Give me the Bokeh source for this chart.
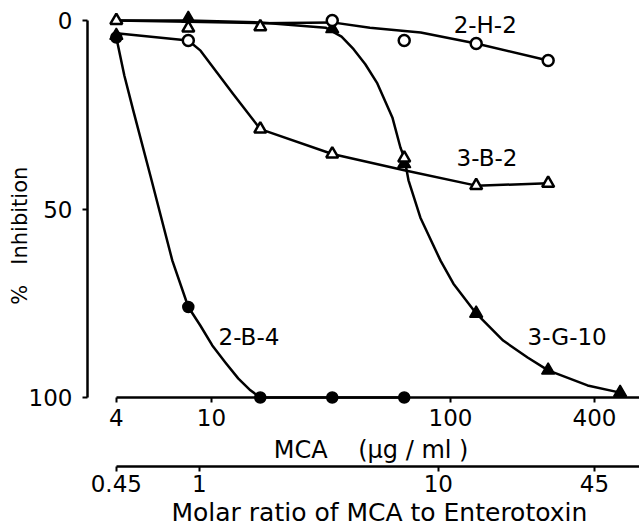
from bokeh.plotting import figure
from bokeh.models import (Range1d, LogAxis, LogScale, FixedTicker,
                          CustomJSTickFormatter)
from bokeh.core.properties import value
from bokeh.embed import file_html
from bokeh.resources import INLINE

# ---------------- data ----------------
# MCA concentration (ug/ml), log axis; % inhibition (0 at top)
mca_ticks = [4, 10, 100, 400]
ratio_ticks = [0.45, 1, 10, 45]
inhib_ticks = [0, 50, 100]
mca_per_ratio = 4 / 0.45          # 4 ug/ml  <->  molar ratio 0.45

# marker points, grouped by symbol as drawn
open_circle_x = [8, 32, 64, 128, 256]
open_circle_y = [5.3, 0.0, 5.3, 6.1, 10.6]

open_tri_x = [4, 8, 16, 16, 32, 64, 128, 256]
open_tri_y = [0.0, 2.0, 1.7, 28.8, 35.4, 36.5, 43.8, 43.2]

filled_tri_x = [4, 8, 32, 64, 128, 256, 512]
filled_tri_y = [4.0, -0.5, 2.2, 38.0, 77.7, 92.8, 98.7]

filled_circle_x = [4, 8, 16, 32, 64]
filled_circle_y = [4.5, 76.0, 100.0, 100.0, 100.0]

# curves as drawn in the figure
curve_2H2_x = [4, 8, 16, 32, 46, 75, 128, 256]
curve_2H2_y = [0.0, 0.3, 0.7, 0.5, 1.9, 3.2, 6.1, 10.6]

curve_3B2_x = [4, 8, 9, 12.3, 16, 32, 64, 128, 256]
curve_3B2_y = [3.4, 5.3, 8.0, 19.4, 28.8, 35.4, 39.7, 43.8, 43.2]

curve_2B4_x = [4, 4.32, 4.71, 5.55, 6.86, 8, 8.98, 10.08, 11.43, 12.96, 14.55,
               16, 32, 64]
curve_2B4_y = [4.5, 14.6, 23.9, 41.1, 63.7, 76.0, 80.9, 86.2, 90.7, 95.0, 98.1,
               100.0, 100.0, 100.0]

curve_3G10_x = [4, 8, 16, 30, 35, 39.3, 44, 49.4, 57.1, 61.7, 64, 66.7, 74.8, 90.8,
                102.8, 128, 166, 210, 256, 374, 512]
curve_3G10_y = [0.0, 0.0, 0.5, 1.9, 4.3, 7.6, 11.6, 16.7, 25.7, 33.7, 36.3, 42.4,
                52.3, 63.7, 69.8, 77.7, 84.9, 89.4, 92.8, 96.8, 98.7]

series_labels = ["2-H-2", "3-B-2", "2-B-4", "3-G-10"]
label_x = [103, 106, 10.7, 210]
label_y = [1.3, 36.6, 84.0, 84.0]

# ---------------- figure ----------------
FONT = "DejaVu Sans"
FS = "23px"
FS_TITLE = "24px"
X_START, X_END = 3.03, 617
NB = "\u00a0"

p = figure(width=639, height=531, x_axis_type="log",
           x_range=Range1d(X_START, X_END), y_range=Range1d(100, 0),
           output_backend="svg", toolbar_location=None,
           min_border_left=87, min_border_right=0, min_border_top=20,
           min_border_bottom=134)
p.outline_line_color = None
p.xgrid.visible = False
p.ygrid.visible = False
p.background_fill_color = "white"

fmt = "return String(tick)"


def style_axis(ax):
    ax.axis_line_width = 2.5
    ax.axis_line_color = "black"
    ax.major_tick_line_width = 2
    ax.major_tick_line_color = "black"
    ax.major_tick_out = 5
    ax.major_tick_in = 0
    ax.minor_tick_out = 0
    ax.minor_tick_in = 0
    ax.major_label_text_font = FONT
    ax.major_label_text_font_size = FS
    ax.major_label_text_color = "black"
    ax.axis_label_text_font = FONT
    ax.axis_label_text_font_size = FS_TITLE
    ax.axis_label_text_font_style = "normal"
    ax.axis_label_text_color = "black"


# primary x axis (MCA)
xa = p.xaxis[0]
style_axis(xa)
xa.ticker = FixedTicker(ticks=mca_ticks)
xa.formatter = CustomJSTickFormatter(code=fmt)
xa.bounds = (4, X_END)
xa.axis_label = NB * 2 + "MCA" + NB * 4 + "(\u00b5g" + NB + "/" + NB + "ml" + NB + ")"
xa.major_label_standoff = 6
xa.axis_label_standoff = 7

# secondary x axis (molar ratio)
p.extra_x_ranges = {"ratio": Range1d(X_START / mca_per_ratio, X_END / mca_per_ratio)}
p.extra_x_scales = {"ratio": LogScale()}
ax2 = LogAxis(x_range_name="ratio")
style_axis(ax2)
ax2.ticker = FixedTicker(ticks=ratio_ticks)
ax2.formatter = CustomJSTickFormatter(code=fmt)
ax2.bounds = (ratio_ticks[0], X_END / mca_per_ratio)
ax2.axis_label = NB * 4 + "Molar ratio of MCA to Enterotoxin"
ax2.axis_label_text_font_size = "25px"
ax2.major_label_standoff = 3
ax2.axis_label_standoff = 3
p.add_layout(ax2, "below")

# y axis
ya = p.yaxis[0]
style_axis(ya)
ya.ticker = FixedTicker(ticks=inhib_ticks)
ya.bounds = (0, 100)
ya.axis_label = "%" + NB * 3 + "Inhibition" + NB * 8
ya.axis_label_text_font_size = "21px"
ya.major_label_standoff = 10
ya.axis_label_standoff = -6

# curves
for cx, cy in [(curve_2H2_x, curve_2H2_y), (curve_3B2_x, curve_3B2_y),
               (curve_2B4_x, curve_2B4_y), (curve_3G10_x, curve_3G10_y)]:
    p.line(cx, cy, line_color="black", line_width=2.5, line_join="round",
           level="overlay")

# markers
p.scatter(filled_circle_x, filled_circle_y, marker="circle", size=11,
          fill_color="black", line_color="black", line_width=1.5, level="overlay")
p.scatter(filled_tri_x, filled_tri_y, marker="triangle", size=13,
          fill_color="black", line_color="black", line_width=1.5, level="overlay")
p.scatter(open_tri_x, open_tri_y, marker="triangle", size=12,
          fill_color="white", line_color="black", line_width=2.5, level="overlay")
p.scatter(open_circle_x, open_circle_y, marker="circle", size=11,
          fill_color="white", line_color="black", line_width=2.5, level="overlay")

# series labels
p.text(x=label_x, y=label_y, text=series_labels, text_font=value(FONT),
       text_font_size=value(FS), text_baseline="middle", text_align="left",
       text_color="black", level="overlay")

open("out.html", "w").write(file_html(p, INLINE))
